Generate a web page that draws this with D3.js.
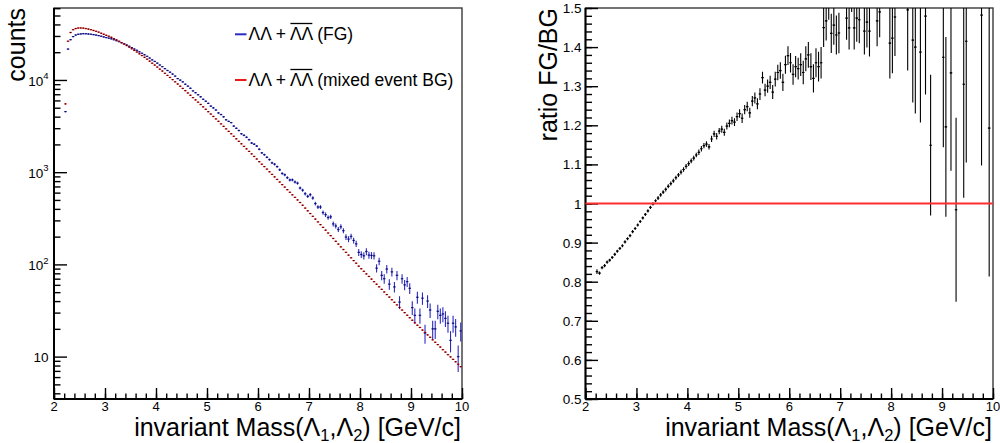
<!DOCTYPE html>
<html>
<head>
<meta charset="utf-8">
<script src="https://cdn.jsdelivr.net/npm/d3@7/dist/d3.min.js"></script>
<style>
html,body{margin:0;padding:0;background:#fff;overflow:hidden}
svg{display:block;font-family:"Liberation Sans",Arial,Helvetica,sans-serif}
</style>
</head>
<body>
<svg id="chart" width="1000" height="443"></svg>
<script>
// ================= DATA =================
// bin centres of the invariant-mass histogram [GeV/c]
const massBins = [
2.225,2.275,2.325,2.375,2.425,2.475,2.525,2.575,2.625,2.675,
2.725,2.775,2.825,2.875,2.925,2.975,3.025,3.075,3.125,3.175,
3.225,3.275,3.325,3.375,3.425,3.475,3.525,3.575,3.625,3.675,
3.725,3.775,3.825,3.875,3.925,3.975,4.025,4.075,4.125,4.175,
4.225,4.275,4.325,4.375,4.425,4.475,4.525,4.575,4.625,4.675,
4.725,4.775,4.825,4.875,4.925,4.975,5.025,5.075,5.125,5.175,
5.225,5.275,5.325,5.375,5.425,5.475,5.525,5.575,5.625,5.675,
5.725,5.775,5.825,5.875,5.925,5.975,6.025,6.075,6.125,6.175,
6.225,6.275,6.325,6.375,6.425,6.475,6.525,6.575,6.625,6.675,
6.725,6.775,6.825,6.875,6.925,6.975,7.025,7.075,7.125,7.175,
7.225,7.275,7.325,7.375,7.425,7.475,7.525,7.575,7.625,7.675,
7.725,7.775,7.825,7.875,7.925,7.975,8.025,8.075,8.125,8.175,
8.225,8.275,8.325,8.375,8.425,8.475,8.525,8.575,8.625,8.675,
8.725,8.775,8.825,8.875,8.925,8.975,9.025,9.075,9.125,9.175,
9.225,9.275,9.325,9.375,9.425,9.475,9.525,9.575,9.625,9.675,
9.725,9.775,9.825,9.875,9.925,9.975];

// mixed-event background counts (red)
const bgCounts = [
5500,26300,32700,35100,36100,36600,36600,36500,36100,35600,
35100,34400,33700,33000,32100,31300,30500,29800,29000,28100,
27200,26300,25400,24500,23600,22700,21800,20900,20100,19200,
18400,17600,16800,16000,15200,14500,13800,13100,12500,11800,
11200,10640,10090,9550,9040,8550,8090,7660,7230,6820,
6440,6080,5740,5420,5110,4810,4530,4270,4020,3780,
3560,3340,3140,2950,2770,2610,2450,2300,2160,2030,
1905,1790,1680,1580,1480,1390,1300,1220,1150,1080,
1010,946,889,834,782,733,689,646,605,568,
533,500,469,438,408,381,356,332,310,289,
270,252,235,219,205,191,178,166,155,145,
135,126,118,110,103,95.7,89.7,84.1,78.9,74.0,
69.3,65.0,61.0,57.1,53.6,50.2,47.1,44.2,41.4,38.8,
36.4,34.1,32.0,30.0,28.1,26.4,24.8,23.3,21.9,20.7,
19.4,18.3,17.2,16.2,15.2,14.3,13.5,12.7,11.9,11.2,
10.5,9.93,9.33,8.79,8.26,7.78];

// same-event foreground counts (blue)
const fgCounts = [
4540,21620,27340,29520,30690,31290,31550,31760,31700,31510,
31310,31030,30670,30290,29790,29300,28820,28430,27930,27310,
26680,26040,25370,24670,23930,23200,22430,21650,20980,20180,
19470,18760,18030,17280,16520,15880,15210,14530,13950,13260,
12670,12130,11580,11000,10350,9960,9530,8980,8570,8120,
7610,7280,6920,6570,6170,5880,5570,5200,4980,4720,
4390,4220,3990,3700,3550,3450,3160,2990,2830,2610,
2510,2390,2250,2070,2010,1920,1770,1620,1550,1450,
1370,1260,1220,1150,1060,968,937,872,823,824,
782,760,673,638,584,547,570,525,457,419,
419,365,346,322,328,275,261,239,256,232,
198,188,201,182,167,135,128,124,138,126,
125,124,91,108,76,70,89,61,83,57,
76,39,70,60,65,55,34,28,44,28,
43,18,40,32,20,20,31,28,29,26,
23,15,23,21,10,19];

const fgErrors = [
67,147,165,172,175,177,178,178,178,178,
177,176,175,174,173,171,170,169,167,165,
163,161,159,157,155,152,150,147,145,142,
140,137,134,131,129,126,123,121,118,115,
113,110,108,105,102,100,98,95,93,90,
87,85,83,81,79,77,75,72,71,69,
66,65,63,61,60,59,56,55,53,51,
50,49,47,45,45,44,42,40,39,38,
37,35,35,34,33,31,31,30,29,29,
28,28,26,25,24,23,24,23,21,20,
20,19,19,18,18,17,16,15,16,15,
14,14,14,13,13,12,11,11,12,11,
11,11,9.5,10.4,8.7,8.4,9.4,7.8,9.1,7.5,
8.7,6.2,8.4,7.7,8.1,7.4,5.8,5.3,6.6,5.3,
6.6,4.2,6.3,5.7,4.5,4.5,5.6,5.3,5.4,5.1,
4.8,3.9,4.8,4.6,3.2,4.4];

// ratio FG/BG (black, right panel)
const ratioValues = [
0.826,0.822,0.836,0.841,0.85,0.855,0.862,0.87,0.878,0.885,
0.892,0.902,0.91,0.918,0.928,0.936,0.945,0.954,0.963,0.972,
0.981,0.99,0.999,1.007,1.014,1.022,1.029,1.036,1.044,1.051,
1.058,1.066,1.073,1.08,1.087,1.095,1.102,1.109,1.116,1.124,
1.131,1.14,1.148,1.152,1.145,1.165,1.178,1.172,1.185,1.19,
1.182,1.198,1.205,1.212,1.208,1.222,1.23,1.218,1.24,1.248,
1.232,1.262,1.27,1.255,1.28,1.322,1.29,1.3,1.31,1.285,
1.318,1.335,1.34,1.31,1.355,1.378,1.36,1.33,1.35,1.345,
1.355,1.335,1.37,1.38,1.35,1.32,1.36,1.35,1.36,1.45,
1.467,1.52,1.435,1.456,1.431,1.436,1.6,1.58,1.474,1.449,
1.55,1.449,1.474,1.47,1.6,1.441,1.464,1.441,1.65,1.6,
1.467,1.49,1.7,1.65,1.62,1.41,1.423,1.477,1.75,1.7,
1.8,1.9,1.495,1.9,1.418,1.4,1.9,1.387,2.0,1.479,
2.1,1.149,2.2,2.0,2.3,2.1,1.374,1.196,2.0,1.334,
2.2,0.984,2.3,2.0,1.305,1.415,2.3,2.2,2.4,2.3,
2.2,1.482,2.5,2.4,1.193,2.4];

const ratioErrors = [
0.006,0.004,0.004,0.004,0.004,0.004,0.004,0.004,0.004,0.004,
0.004,0.004,0.004,0.004,0.004,0.004,0.004,0.004,0.004,0.004,
0.004,0.004,0.004,0.004,0.005,0.005,0.005,0.005,0.005,0.005,
0.005,0.005,0.005,0.006,0.006,0.006,0.006,0.006,0.006,0.006,
0.007,0.007,0.007,0.007,0.007,0.008,0.008,0.008,0.008,0.009,
0.009,0.009,0.01,0.01,0.01,0.011,0.011,0.012,0.012,0.012,
0.013,0.013,0.014,0.014,0.015,0.015,0.016,0.017,0.017,0.018,
0.019,0.02,0.021,0.022,0.023,0.024,0.025,0.026,0.027,0.028,
0.029,0.03,0.032,0.033,0.034,0.036,0.037,0.038,0.04,0.05,
0.05,0.05,0.05,0.05,0.05,0.052,0.06,0.06,0.055,0.055,
0.06,0.055,0.06,0.06,0.07,0.06,0.065,0.065,0.07,0.07,
0.065,0.065,0.08,0.08,0.08,0.09,0.09,0.1,0.1,0.1,
0.1,0.12,0.155,0.15,0.16,0.17,0.2,0.18,0.2,0.2,
0.25,0.18,0.3,0.3,0.3,0.3,0.23,0.23,0.3,0.25,
0.35,0.235,0.4,0.4,0.29,0.31,0.4,0.4,0.45,0.45,
0.45,0.385,0.5,0.5,0.38,0.5];

const binWidth = 0.05;
const massDomain = [2, 10];
const countDomain = [3.47, 60300];
const ratioDomain = [0.5, 1.5];
const massTicks = [2, 3, 4, 5, 6, 7, 8, 9, 10];
const countTicks = [10, 100, 1000, 10000];
const countTickExponents = ["", "2", "3", "4"];
const ratioTicks = [0.5, 0.6, 0.7, 0.8, 0.9, 1, 1.1, 1.2, 1.3, 1.4, 1.5];
const ratioTickLabels = ["0.5","0.6","0.7","0.8","0.9","1","1.1","1.2","1.3","1.4","1.5"];
const legendEntries = [
  {pre: "ΛΛ + ", bar: "ΛΛ", post: " (FG)", key: "fg"},
  {pre: "ΛΛ + ", bar: "ΛΛ", post: " (mixed event BG)", key: "bg"}
];
const leftYTitle = "counts";
const rightYTitle = "ratio FG/BG";
const referenceRatio = 1;

// ================= STYLE =================
const colors = {fg: "#2b2bc4", bg: "#ee1a1a", ratio: "#000", refLine: "#ff2e2e"};
const FONT_TICK = 13, FONT_TITLE = 25, FONT_LEG = 17.5;

const svg = d3.select("#chart");
svg.append("rect").attr("width", 1000).attr("height", 443).attr("fill", "#fff");

const PL = {x0: 54, x1: 462, y0: 8, y1: 399};
const PR = {x0: 585.5, x1: 993, y0: 8, y1: 399};

const xL = d3.scaleLinear().domain(massDomain).range([PL.x0, PL.x1]);
const yL = d3.scaleLog().domain(countDomain).range([PL.y1, PL.y0]);
const xR = d3.scaleLinear().domain(massDomain).range([PR.x0, PR.x1]);
const yR = d3.scaleLinear().domain(ratioDomain).range([PR.y1, PR.y0]);

const defs = svg.append("defs");
function clipFor(id, P) {
  defs.append("clipPath").attr("id", id).append("rect")
    .attr("x", P.x0).attr("y", P.y0).attr("width", P.x1 - P.x0).attr("height", P.y1 - P.y0);
  return "url(#" + id + ")";
}
const clipL = clipFor("clipL", PL);
const clipR = clipFor("clipR", PR);

function styleAxis(a) {
  a.select(".domain").remove();
  a.selectAll(".tick line").attr("stroke", "#000").attr("stroke-width", 1.4);
}

function drawFrame(P) {
  svg.append("rect").attr("x", P.x0).attr("y", P.y0)
    .attr("width", P.x1 - P.x0).attr("height", P.y1 - P.y0)
    .attr("fill", "none").attr("stroke", "#3a3a3a").attr("stroke-width", 1.4);
}

function drawXAxis(x, P) {
  const minor = d3.range(massDomain[0], massDomain[1] + 1e-9, 0.2);
  const g1 = svg.append("g").attr("transform", `translate(0,${P.y1})`)
    .call(d3.axisBottom(x).tickValues(minor).tickSize(-5.5).tickSizeOuter(0).tickFormat(""));
  styleAxis(g1);
  const g2 = svg.append("g").attr("transform", `translate(0,${P.y1})`)
    .call(d3.axisBottom(x).tickValues(massTicks).tickSize(-11).tickSizeOuter(0).tickFormat(""));
  styleAxis(g2);
  svg.append("line").attr("x1", P.x0).attr("x2", P.x1).attr("y1", P.y1).attr("y2", P.y1)
    .attr("stroke", "#000").attr("stroke-width", 2);
  svg.append("g").selectAll("text").data(massTicks).join("text")
    .attr("x", d => x(d)).attr("y", P.y1 + 11.5).attr("text-anchor", "middle")
    .attr("font-size", FONT_TICK).attr("fill", "#000").text(d => d);
}

function drawXTitle(xRight) {
  const t = svg.append("text").attr("x", xRight).attr("y", 435.5)
    .attr("text-anchor", "end").attr("font-size", FONT_TITLE).attr("fill", "#000");
  t.append("tspan").text("invariant Mass(Λ");
  t.append("tspan").attr("font-size", 16.5).attr("dy", 5).text("1");
  t.append("tspan").attr("dy", -5).text(",Λ");
  t.append("tspan").attr("font-size", 16.5).attr("dy", 5).text("2");
  t.append("tspan").attr("dy", -5).text(") [GeV/c]");
}

function drawYTitle(x, text) {
  svg.append("text").attr("transform", `translate(${x},${PL.y0}) rotate(-90)`)
    .attr("text-anchor", "end").attr("font-size", FONT_TITLE).attr("fill", "#000").text(text);
}

// ---------- LEFT PANEL ----------
drawFrame(PL);
{
  const minor = [];
  [1, 10, 100, 1000, 10000].forEach(b => {
    for (let k = 2; k <= 9; k++) {
      const v = b * k;
      if (v >= countDomain[0] && v <= countDomain[1]) minor.push(v);
    }
  });
  const g1 = svg.append("g").attr("transform", `translate(${PL.x0},0)`)
    .call(d3.axisLeft(yL).tickValues(minor).tickSize(-6.5).tickSizeOuter(0).tickFormat(""));
  styleAxis(g1);
  const g2 = svg.append("g").attr("transform", `translate(${PL.x0},0)`)
    .call(d3.axisLeft(yL).tickValues(countTicks).tickSize(-13).tickSizeOuter(0).tickFormat(""));
  styleAxis(g2);
  svg.append("line").attr("x1", PL.x0).attr("x2", PL.x0).attr("y1", PL.y0).attr("y2", PL.y1)
    .attr("stroke", "#000").attr("stroke-width", 2);
  countTicks.forEach((v, i) => {
    const t = svg.append("text").attr("x", PL.x0 - 5.5).attr("y", yL(v) + 5.8)
      .attr("text-anchor", "end").attr("font-size", 13.5).attr("fill", "#000");
    t.append("tspan").text("10");
    if (countTickExponents[i]) {
      t.append("tspan").attr("font-size", 9.5).attr("dy", -6.5).text(countTickExponents[i]);
    }
  });
}
drawXAxis(xL, PL);
drawXTitle(461);
drawYTitle(24.5, leftYTitle);

function drawHist(gParent, x, y, vals, errs, color, clip, dotColor) {
  const g = gParent.append("g").attr("clip-path", clip);
  const pts = massBins.map((c, i) => ({c: c, v: vals[i], e: errs ? errs[i] : 0}))
    .filter(d => d.v !== undefined && d.v > 0);
  g.selectAll(null).data(pts.filter(d => d.e > 0)).join("line")
    .attr("x1", d => x(d.c)).attr("x2", d => x(d.c))
    .attr("y1", d => y(Math.max(d.v - d.e, y.domain()[0] * 0.5)))
    .attr("y2", d => y(d.v + d.e))
    .attr("stroke", color).attr("stroke-width", 1.1);
  g.selectAll(null).data(pts).join("line")
    .attr("x1", d => x(d.c - binWidth / 2)).attr("x2", d => x(d.c + binWidth / 2))
    .attr("y1", d => y(d.v)).attr("y2", d => y(d.v))
    .attr("stroke", color).attr("stroke-width", 1.2);
  g.selectAll(null).data(pts).join("rect")
    .attr("x", d => x(d.c) - 0.6).attr("y", d => y(d.v) - 0.6)
    .attr("width", 1.2).attr("height", 1.2).attr("fill", dotColor);
}

const gLeft = svg.append("g");
drawHist(gLeft, xL, yL, fgCounts, fgErrors, colors.fg, clipL, "#10104a");
drawHist(gLeft, xL, yL, bgCounts, null, colors.bg, clipL, "#3a0000");

// legend
legendEntries.forEach((L, i) => {
  const yb = [39.5, 85.5][i];
  const yl = [34.3, 80][i];
  const col = colors[L.key];
  svg.append("line").attr("x1", 235).attr("x2", 246.5).attr("y1", yl).attr("y2", yl)
    .attr("stroke", col).attr("stroke-width", 2);
  const tx = 248.5;
  const t = svg.append("text").attr("x", tx).attr("y", yb)
    .attr("font-size", FONT_LEG).attr("fill", "#000").text(L.pre + L.bar + L.post);
  const node = t.node();
  let x0 = tx + 42, w = 23;
  try {
    x0 = tx + node.getSubStringLength(0, L.pre.length);
    w = node.getSubStringLength(L.pre.length, L.bar.length);
  } catch (e) {}
  svg.append("line").attr("x1", x0 + 0.5).attr("x2", x0 + w).attr("y1", yb - 16).attr("y2", yb - 16)
    .attr("stroke", "#000").attr("stroke-width", 1.3);
});

// ---------- RIGHT PANEL ----------
drawFrame(PR);
{
  const minor = d3.range(ratioDomain[0], ratioDomain[1] + 1e-9, 0.02);
  const g1 = svg.append("g").attr("transform", `translate(${PR.x0},0)`)
    .call(d3.axisLeft(yR).tickValues(minor).tickSize(-6.5).tickSizeOuter(0).tickFormat(""));
  styleAxis(g1);
  const g2 = svg.append("g").attr("transform", `translate(${PR.x0},0)`)
    .call(d3.axisLeft(yR).tickValues(ratioTicks).tickSize(-12.5).tickSizeOuter(0).tickFormat(""));
  styleAxis(g2);
  svg.append("line").attr("x1", PR.x0).attr("x2", PR.x0).attr("y1", PR.y0).attr("y2", PR.y1)
    .attr("stroke", "#000").attr("stroke-width", 2);
  svg.append("g").selectAll("text").data(ratioTicks).join("text")
    .attr("x", PR.x0 - 4).attr("y", d => yR(d) + 5)
    .attr("text-anchor", "end").attr("font-size", 13.5).attr("fill", "#000")
    .text((d, i) => ratioTickLabels[i]);
}
drawXAxis(xR, PR);
drawXTitle(992);
drawYTitle(556.5, rightYTitle);

const gRight = svg.append("g");
drawHist(gRight, xR, yR, ratioValues, ratioErrors, colors.ratio, clipR, "#000");
svg.append("line").attr("x1", PR.x0).attr("x2", PR.x1)
  .attr("y1", yR(referenceRatio)).attr("y2", yR(referenceRatio))
  .attr("stroke", colors.refLine).attr("stroke-width", 1.8);
</script>
</body>
</html>
